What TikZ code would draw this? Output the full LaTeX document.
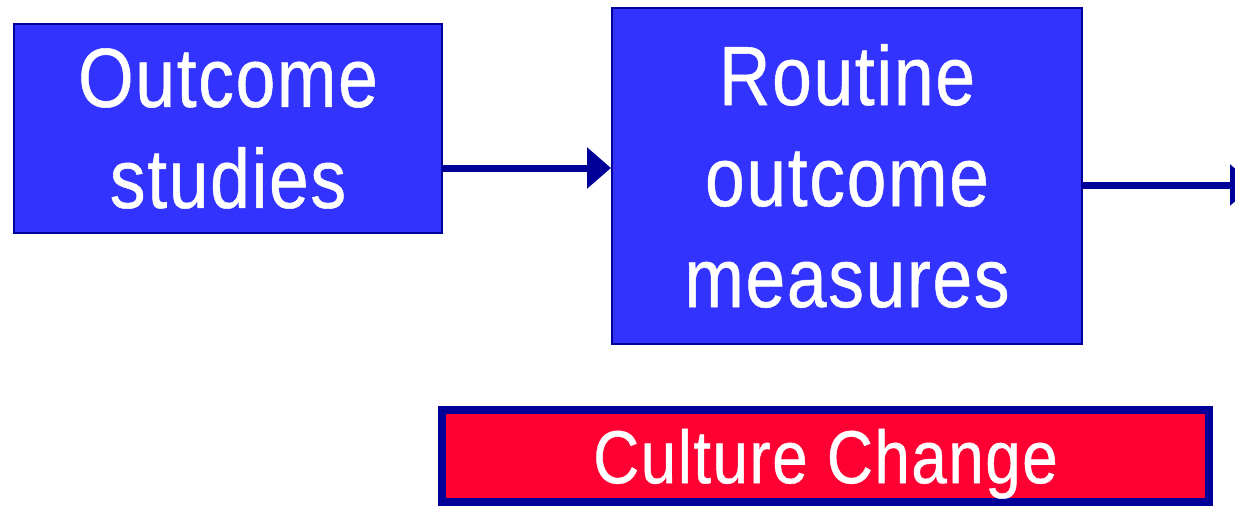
\documentclass[tikz,border=0pt]{standalone}
\usepackage{fontspec}
\newfontfamily\narrowsans{Liberation Sans}[FakeStretch=0.85,FakeBold=0.6,LetterSpace=2]
\usetikzlibrary{arrows.meta}
\definecolor{boxblue}{HTML}{3333FF}
\definecolor{navy}{HTML}{000099}
\definecolor{cred}{HTML}{FF0033}
\tikzset{
  bluebox/.style={draw=navy, line width=2pt, fill=boxblue, text=white, align=center,
    inner sep=0pt, font=\narrowsans\fontsize{84}{101}\selectfont},
  redbox/.style={draw=navy, line width=8pt, fill=cred, text=white, inner sep=0pt,
    text depth=0pt, font=\narrowsans\fontsize{75}{90}\selectfont},
  arr/.style={draw=navy, line width=7pt, -{Triangle[length=24pt,width=40pt]}}
}
\begin{document}
\begin{tikzpicture}[x=1pt,y=-1pt]
\useasboundingbox (0,0) rectangle (1235,506);
\clip (0,0) rectangle (1235,506);
\node[bluebox, minimum width=428pt, minimum height=209pt] (b1) at (228,128.5) {Outcome\\studies};
\node[bluebox, minimum width=470pt, minimum height=336pt] (b2) at (847,176) {Routine\\outcome\\measures};
\node[redbox, minimum width=767pt, minimum height=92pt] (cc) at (825.5,456) {Culture Change};
\coordinate (out) at (1254,185);
\draw[arr] ([yshift=-39.5pt]b1.east) -- ([yshift=-39.5pt]b1.east -| b2.west);
\draw[arr] (b2.east |- out) -- (out);
\end{tikzpicture}
\end{document}
